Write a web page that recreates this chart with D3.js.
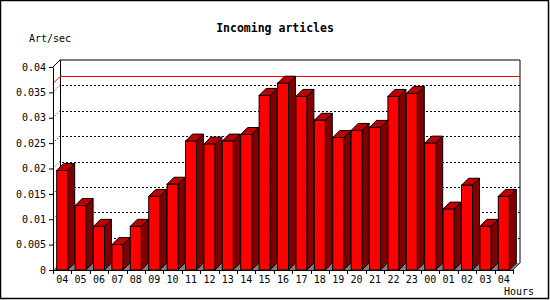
<!DOCTYPE html>
<html>
<head>
<meta charset="utf-8">
<script src="https://cdn.jsdelivr.net/npm/d3@7"></script>
<style>
  body { margin: 0; background: #fff; }
  svg { display: block; }
  text { font-family: "DejaVu Sans Mono", monospace; fill: #000; }
</style>
</head>
<body>
<svg id="chart"></svg>
<script>
// hours of the day (last 24h + current)
const hours = ["04","05","06","07","08","09","10","11","12","13","14","15","16",
               "17","18","19","20","21","22","23","00","01","02","03","04"];
// articles per second
const artPerSec = [0.0196,0.0127,0.0086,0.0050,0.0086,0.0145,0.0169,
                   0.0254,0.0248,0.0254,0.0267,0.0344,0.0368,
                   0.0342,0.0295,0.0261,0.0275,0.0281,0.0342,0.0348,
                   0.0250,0.0120,0.0167,0.0086,0.0145];
const yTicks = [0,0.005,0.01,0.015,0.02,0.025,0.03,0.035,0.04];

const width = 550, height = 300;
const depth = 7;        // 3d offset
const barW = 11;        // front face width
const svg = d3.select("#chart").attr("width", width).attr("height", height);

// frame
svg.append("rect").attr("x", 0.5).attr("y", 0.5).attr("width", 548).attr("height", 298)
  .attr("fill", "#fff").attr("stroke", "#000").attr("stroke-width", 1.5);

const x = d3.scaleBand().domain(d3.range(hours.length)).range([53, 513]);
const y = d3.scaleLinear().domain([0, 0.04]).range([270, 67]);
const x0 = x.range()[0], x1 = x.range()[1];
const yTop = y(0.04) - depth, yFloor = y(0) - depth;

// back wall outline
const wall = svg.append("g").attr("fill", "none").attr("stroke", "#000");
wall.append("path").attr("d", `M${x0},${y(0.04)}L${x0 + depth},${yTop}H${x1 + depth}V${yFloor}L${x1},${y(0)}`);
wall.append("line").attr("x1", x0 + depth + 0.5).attr("x2", x0 + depth + 0.5)
  .attr("y1", yTop).attr("y2", yFloor);

// dotted grid
const grid = svg.append("g").attr("stroke", "#000").attr("stroke-dasharray", "2,2");
yTicks.slice(1, -1).forEach(v => {
  grid.append("line").attr("x1", x0 + depth + 2).attr("x2", x1 + depth)
    .attr("y1", Math.round(y(v) - depth) + 0.5).attr("y2", Math.round(y(v) - depth) + 0.5);
  grid.append("line").attr("x1", x0).attr("x2", x0 + depth)
    .attr("y1", y(v)).attr("y2", y(v) - depth).attr("stroke-dasharray", "1,2");
});

// max line
const maxV = d3.max(artPerSec);
const ym = Math.round(y(maxV) - depth) + 0.5;
svg.append("path").attr("fill", "none").attr("stroke", "#f00")
  .attr("d", `M${x0},${ym + depth}L${x0 + depth},${ym}H${x1 + depth}`);

// floor
svg.append("path").attr("fill", "#808080")
  .attr("d", `M${x0},${y(0)}L${x0 + depth},${yFloor}H${x1 + depth}L${x1},${y(0)}Z`);

// bars
const bars = svg.append("g").attr("stroke", "#000").attr("stroke-linejoin", "miter");
artPerSec.forEach((v, i) => {
  const xl = x(i) + x.bandwidth() / 2 - barW / 2, xr = xl + barW;
  const yv = y(v), yb = y(0);
  bars.append("path").attr("fill", "#800000")
    .attr("d", `M${xr},${yv}L${xr + depth},${yv - depth}V${yb - depth}L${xr},${yb}Z`);
  bars.append("path").attr("fill", "#c00000")
    .attr("d", `M${xl},${yv}L${xl + depth},${yv - depth}H${xr + depth}L${xr},${yv}Z`);
  bars.append("rect").attr("fill", "#f00")
    .attr("x", xl).attr("y", yv).attr("width", barW).attr("height", yb - yv);
});

// y axis
const yAxis = svg.append("g").attr("transform", `translate(${x0},0)`)
  .call(d3.axisLeft(y).tickValues(yTicks).tickSize(4).tickSizeOuter(0).tickPadding(3)
    .tickFormat(d => String(+d.toFixed(3))));
yAxis.selectAll("text").style("font-family", "DejaVu Sans Mono").style("font-size", "10px");

// x axis: labels centred, ticks on band edges
const xAxis = svg.append("g").attr("transform", `translate(0,${y(0)})`)
  .call(d3.axisBottom(x).tickFormat(i => hours[i]).tickSize(0).tickPadding(6));
xAxis.select(".domain").attr("d", `M${x0},0.5H${x1}`);
xAxis.selectAll("text").style("font-family", "DejaVu Sans Mono").style("font-size", "10px");
xAxis.selectAll(".edge").data(d3.range(hours.length + 1)).enter().append("line")
  .attr("stroke", "#000")
  .attr("x1", i => Math.round(x0 + i * x.step()) + 0.5).attr("x2", i => Math.round(x0 + i * x.step()) + 0.5)
  .attr("y1", 0).attr("y2", 4);

// titles
svg.append("text").attr("x", 275).attr("y", 32).attr("text-anchor", "middle")
  .style("font-size", "11.5px").style("font-weight", "bold").text("Incoming articles");
svg.append("text").attr("x", 29).attr("y", 42).style("font-size", "10px").text("Art/sec");
svg.append("text").attr("x", 534).attr("y", 295).attr("text-anchor", "end")
  .style("font-size", "10px").text("Hours");
</script>
</body>
</html>
